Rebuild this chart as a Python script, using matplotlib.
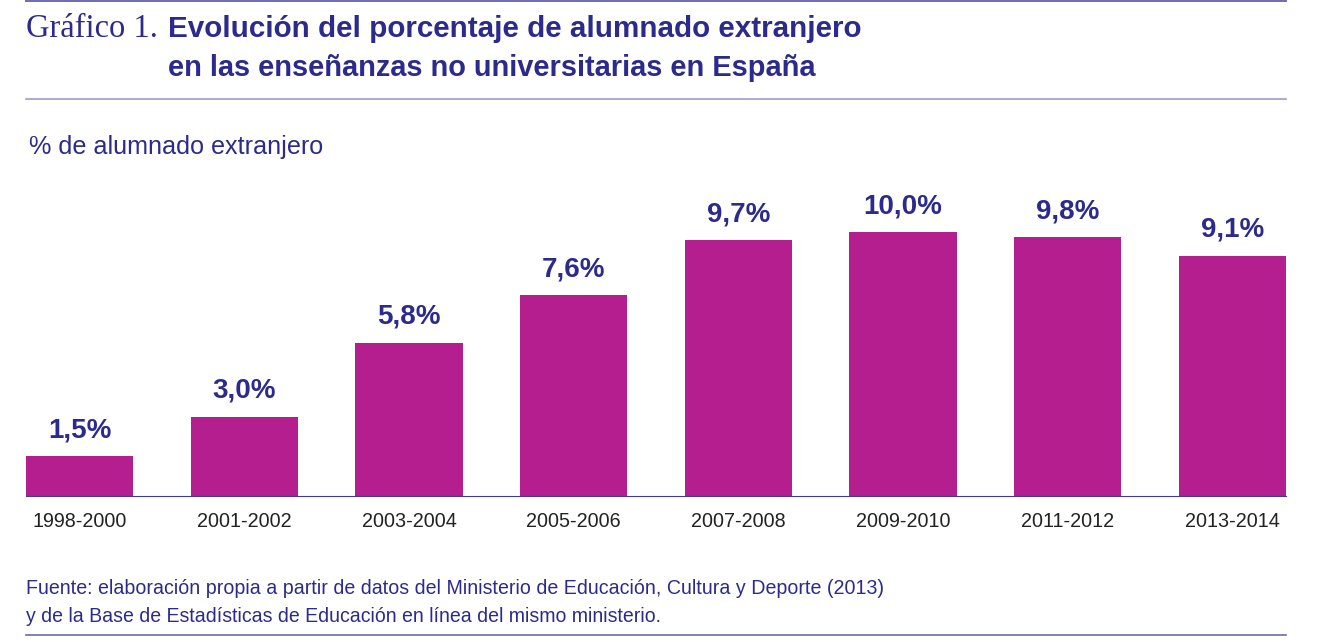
import matplotlib
matplotlib.use("Agg")
import matplotlib.pyplot as plt
from matplotlib.lines import Line2D

# ---- data ----
categories = ["1998-2000", "2001-2002", "2003-2004", "2005-2006",
              "2007-2008", "2009-2010", "2011-2012", "2013-2014"]
values = [1.5, 3.0, 5.8, 7.6, 9.7, 10.0, 9.8, 9.1]
value_labels = ["1,5%", "3,0%", "5,8%", "7,6%", "9,7%", "10,0%", "9,8%", "9,1%"]
title_prefix = "Gráfico 1."
title_lines = ["Evolución del porcentaje de alumnado extranjero",
               "en las enseñanzas no universitarias en España"]
ylabel = "% de alumnado extranjero"
source_lines = ["Fuente: elaboración propia a partir de datos del Ministerio de Educación, Cultura y Deporte (2013)",
                "y de la Base de Estadísticas de Educación en línea del mismo ministerio."]

W, H = 1317, 642
NAVY = "#2C2B8C"
BAR = "#B41E8E"
RULE = "#9E9CC6"
RULE_DARK = "#6E6BAE"

fig = plt.figure(figsize=(W / 100, H / 100), dpi=100)
fig.patch.set_facecolor("white")

def fx(x):
    return x / W

def fy(y):
    return 1 - y / H

SANS = ["Liberation Sans", "DejaVu Sans"]
SERIF = ["Liberation Serif", "DejaVu Serif"]

# axes placement
left_px, right_px = 26, 1286
base_px = 496
px_per_unit = 26.4
ymax = 12.0
top_px = base_px - ymax * px_per_unit
ax = fig.add_axes([fx(left_px), fy(base_px), (right_px - left_px) / W, (base_px - top_px) / H])

width = 0.652
xs = list(range(len(categories)))
ax.bar(xs, values, width=width, color=BAR, edgecolor="none", zorder=2)
ax.set_xlim(-width / 2, len(categories) - 1 + width / 2)
ax.set_ylim(0, ymax)
for s in ["top", "right", "left"]:
    ax.spines[s].set_visible(False)
ax.spines["bottom"].set_color("#3B3A9A")
ax.spines["bottom"].set_linewidth(0.8)
ax.set_yticks([])
ax.set_xticks(xs)
ax.set_xticklabels(categories, fontsize=14.2, color="#222222", family=SANS)
ax.tick_params(axis="x", length=0, pad=11.5)

for x, v, lab in zip(xs, values, value_labels):
    ax.annotate(lab, (x, v), xytext=(0, 13.6), textcoords="offset points",
                ha="center", va="baseline", fontsize=20, fontweight="bold",
                color=NAVY, family=SANS)

renderer = fig.canvas.get_renderer()

def fit_text(x, y, s, target_w, size, **kw):
    t = fig.text(fx(x), fy(y), s, fontsize=size, va="baseline", ha="left", **kw)
    w = t.get_window_extent(renderer=renderer).width
    t.set_fontsize(size * target_w / w)
    return t

fit_text(26, 36.7, title_prefix, 132, 24, color=NAVY, family=SERIF)
fit_text(168, 36.7, title_lines[0], 694, 19, color=NAVY, family=SANS, fontweight="bold")
fit_text(168, 76, title_lines[1], 650, 19, color=NAVY, family=SANS, fontweight="bold")
fit_text(29, 154, ylabel, 293, 18, color=NAVY, family=SANS)
fit_text(26, 594.3, source_lines[0], 860, 14, color=NAVY, family=SANS)
fit_text(26, 621.7, source_lines[1], 638, 14, color=NAVY, family=SANS)

# horizontal rules
for y, c, lw in [(0.8, RULE_DARK, 1.4), (99, RULE, 1.2), (635.3, RULE_DARK, 1.2)]:
    fig.add_artist(Line2D([fx(26), fx(1286)], [fy(y), fy(y)], color=c, linewidth=lw,
                          transform=fig.transFigure))

fig.savefig("out.png", dpi=100, facecolor="white")
